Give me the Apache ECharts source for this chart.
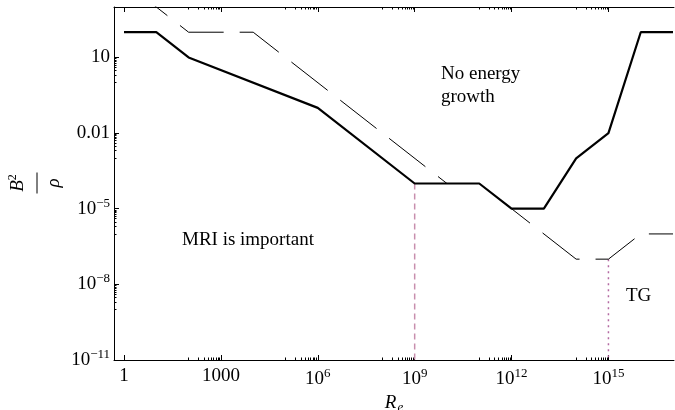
<!DOCTYPE html>
<html>
<head>
<meta charset="utf-8">
<script src="https://cdn.jsdelivr.net/npm/echarts@6/dist/echarts.min.js"></script>
<style>
html,body{margin:0;padding:0;background:#fff;}
#chart{width:675px;height:410px;}
</style>
</head>
<body>
<div id="chart"></div>
<script>
// ---- data (raw values) ----
const solidX = [1, 10, 100, 1e6, 1e9, 1e11, 1e12, 1e13, 1e14, 1e15, 1e16, 1e17];
const solidY = [100, 100, 10, 0.1, 1e-4, 1e-4, 1e-5, 1e-5, 1e-3, 1e-2, 100, 100];
const dashX = [1, 100, 1e4, 1e10, 1e11, 1e14, 1e15, 1e16, 1e17];
const dashY = [1e4, 100, 100, 1e-4, 1e-4, 1e-7, 1e-7, 1e-6, 1e-6];
const vline1X = [1e9, 1e9];
const vline1Y = [1e-4, 1e-11];
const vline2X = [1e15, 1e15];
const vline2Y = [1e-7, 1e-11];
const xTickExp = [0, 3, 6, 9, 12, 15];
const xTickLabels = ['1', '1000', '10^6', '10^9', '10^12', '10^15'];
const yTickExp = [1, -2, -5, -8, -11];
const yTickLabels = ['10', '0.01', '10^\u22125', '10^\u22128', '10^\u221211'];
const annotations = ['No energy\ngrowth', 'MRI is important', 'TG'];

// ---- helpers ----
const L = v => Math.log10(v);
const pairs = (xs, ys) => xs.map((x, i) => [L(x), L(ys[i])]);
const FONT = '"Liberation Serif", "DejaVu Serif", serif';
const X_MIN = -0.31, X_MAX = 17.03, Y_MIN = -11, Y_MAX = 3;

function minorTicks(majors, lo, hi) {
  const out = [];
  majors.forEach(M => {
    for (let k = 1; k <= 9; k++) {
      const v = M - 1 + Math.log10(k);
      if (v > lo + 1e-6 && v < hi - 1e-6) out.push(v);
    }
  });
  return out;
}
const xMinor = minorTicks(xTickExp.filter(e => e > 0), X_MIN, X_MAX);
const yMinor = minorTicks(yTickExp, Y_MIN, Y_MAX);

function fmt(exps, labels) {
  return function (v) {
    const i = exps.findIndex(e => Math.abs(e - v) < 1e-6);
    if (i < 0) return '';
    const s = labels[i];
    if (s.indexOf('^') < 0) return '{b|' + s + '}';
    const p = s.split('^');
    return '{b|' + p[0] + '}{s|' + p[1] + '}';
  };
}
const labelRich = {
  b: { fontFamily: FONT, fontSize: 19, color: '#000' },
  s: { fontFamily: FONT, fontSize: 13, color: '#000', padding: [0, 0, 11, 0] }
};

const tickStyle = { color: '#000', width: 1 };
function xAxisDef(pos, major, showLine, showLabel) {
  return {
    type: 'value', position: pos, min: X_MIN, max: X_MAX,
    axisLine: { show: showLine, onZero: false, lineStyle: { color: '#000', width: 1 } },
    axisTick: { show: true, inside: true, length: major ? 5 : 2.5,
      customValues: major ? xTickExp : xMinor, lineStyle: tickStyle },
    axisLabel: { show: showLabel, customValues: xTickExp, margin: 7,
      formatter: fmt(xTickExp, xTickLabels), rich: labelRich },
    splitLine: { show: false }
  };
}
function yAxisDef(major, showLabel) {
  return {
    type: 'value', position: 'left', min: Y_MIN, max: Y_MAX,
    axisLine: { show: major, onZero: false, lineStyle: { color: '#000', width: 1 } },
    axisTick: { show: true, inside: true, length: major ? 5 : 2.5,
      customValues: major ? yTickExp : yMinor, lineStyle: tickStyle },
    axisLabel: { show: showLabel, customValues: yTickExp, margin: 4,
      formatter: fmt(yTickExp, yTickLabels), rich: labelRich },
    splitLine: { show: false }
  };
}

const xAxes = [
  xAxisDef('bottom', true, true, true),
  xAxisDef('bottom', false, false, false),
  xAxisDef('top', true, true, false),
  xAxisDef('top', false, false, false)
];
xAxes[0].name = '{i|R}{sub|e}';
xAxes[0].nameLocation = 'middle';
xAxes[0].nameGap = 32;
xAxes[0].nameTextStyle = {
  rich: {
    i: { fontFamily: FONT, fontStyle: 'italic', fontSize: 19, color: '#000' },
    sub: { fontFamily: FONT, fontStyle: 'italic', fontSize: 13, color: '#000', padding: [9, 0, 0, 1] }
  }
};

const chart = echarts.init(document.getElementById('chart'), null, { renderer: 'canvas' });
chart.setOption({
  animation: false,
  backgroundColor: '#fff',
  grid: { left: 114, right: 1, top: 7, bottom: 50, containLabel: false, outerBoundsMode: 'none' },
  xAxis: xAxes,
  yAxis: [yAxisDef(true, true), yAxisDef(false, false)],
  series: [
    { type: 'line', data: pairs(vline1X, vline1Y), symbol: 'none', silent: true,
      lineStyle: { color: '#c88fae', width: 1.5, type: [6, 4] }, z: 1 },
    { type: 'line', data: pairs(vline2X, vline2Y), symbol: 'none', silent: true,
      lineStyle: { color: '#b46aa2', width: 1.5, type: [2, 4] }, z: 1 },
    { type: 'line', data: pairs(dashX, dashY), symbol: 'none', silent: true,
      lineStyle: { color: '#000', width: 1, type: [46, 16], dashOffset: 53 }, z: 2 },
    { type: 'line', data: pairs(solidX, solidY), symbol: 'none', silent: true,
      lineStyle: { color: '#000', width: 2.2 }, z: 3 }
  ],
  graphic: [
    { type: 'text', left: 441, top: 63,
      style: { text: annotations[0], font: '19px ' + FONT, fill: '#000', lineHeight: 23 } },
    { type: 'text', left: 182, top: 231,
      style: { text: annotations[1], font: '19px ' + FONT, fill: '#000' } },
    { type: 'text', left: 626, top: 287,
      style: { text: annotations[2], font: '19px ' + FONT, fill: '#000' } },
    { type: 'group', x: 37, y: 183, rotation: Math.PI / 2,
      children: [
        { type: 'text', x: 0, y: -19,
          style: { text: '{b|B}{s|2}', align: 'center', verticalAlign: 'middle',
            rich: { b: { fontFamily: FONT, fontStyle: 'italic', fontSize: 19, fill: '#000' },
                    s: { fontFamily: FONT, fontSize: 12, fill: '#000', padding: [0, 0, 10, 0] } } } },
        { type: 'line', shape: { x1: -10.5, y1: 0, x2: 10.5, y2: 0 },
          style: { stroke: '#000', lineWidth: 1 } },
        { type: 'text', x: 0, y: 17,
          style: { text: '\u03C1', font: 'italic 19px ' + FONT, fill: '#000',
            align: 'center', verticalAlign: 'middle' } }
      ] }
  ]
});
</script>
</body>
</html>
